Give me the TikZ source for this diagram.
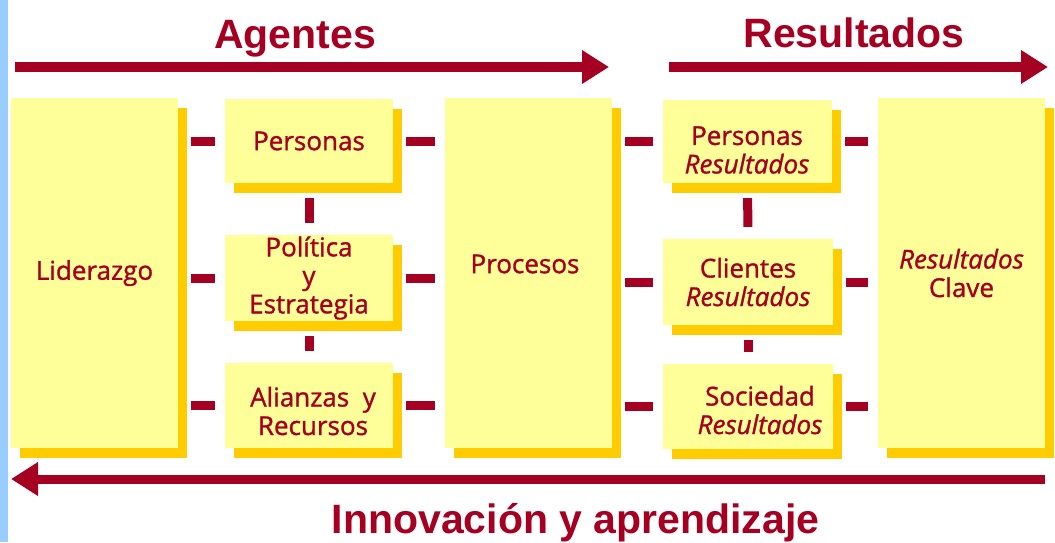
\documentclass[tikz,border=0pt]{standalone}
\usepackage{fontspec}
\setmainfont{Open Sans}[FakeBold=1.2]
\newfontfamily\titlefont{Liberation Sans}
\usetikzlibrary{arrows.meta,shadows}
\definecolor{burgundy}{HTML}{A50021}
\definecolor{paleyellow}{HTML}{FFFF99}
\definecolor{gold}{HTML}{FFCC00}
\definecolor{skyblue}{HTML}{99CCFF}
\tikzset{
  box/.style={fill=paleyellow, minimum width=168pt, inner sep=0pt, align=center, text=burgundy,
    font=\fontsize{26}{28.5}\selectfont,
    copy shadow={shadow xshift=9pt, shadow yshift=-10pt, fill=gold, draw=none}},
  txt/.style={align=center, text=burgundy, inner sep=0pt, font=\fontsize{26}{28.5}\selectfont},
  title/.style={anchor=base, text=burgundy, inner sep=0pt, font=\titlefont\bfseries\fontsize{41}{41}\selectfont},
  bigarrow/.style={burgundy, line width=10pt, -{Triangle[length=27pt, width=32pt]}},
  link/.style={burgundy, line width=9pt, shorten <=13pt, shorten >=10pt},
  vlink/.style={burgundy, line width=9pt, shorten <=15pt, shorten >=12pt}
}
\begin{document}
\begin{tikzpicture}[x=1pt, y=-1pt]
\useasboundingbox (0,0) rectangle (1055,542);
\fill[skyblue] (0,0) rectangle (8,542);
\node[title] (agentes) at (295,48) {Agentes};
\node[title] (resultados) at (854,47) {Resultados};
\node[title] (innovacion) at (575.5,533) {Innovación y aprendizaje};
\coordinate (ag1) at (15,67);
\coordinate (ag2) at (609,67);
\coordinate (re1) at (669,67);
\coordinate (re2) at (1048,67);
\coordinate (in1) at (1045,479);
\coordinate (in2) at (11,479);
\draw[bigarrow] (ag1) -- (ag2);
\draw[bigarrow] (re1) -- (re2);
\draw[bigarrow, line width=9pt] (in1) -- (in2);
\node[box, minimum width=167pt, minimum height=350pt] (lid) at (94.5,273) {Liderazgo};
\node[box, minimum height=84pt] (per) at (309,141) {Personas};
\node[box, minimum height=86pt] (pol) at (309,278) {Política\\y\\Estrategia};
\node[box, minimum height=85pt] (ali) at (309,405.5) {};
\node[txt] (alit) at (313,411) {Alianzas\ \ y\\Recursos};
\node[box, minimum width=167pt, minimum height=350pt] (proc) at (528.5,273) {};
\node[txt] (proct) at (525,264) {Procesos};
\node[box, minimum width=169pt, minimum height=83pt] (rper) at (747.5,141.5) {};
\node[txt] (rpert) at (747,150) {Personas\\\textit{Resultados}};
\node[box, minimum width=170pt, minimum height=86pt] (rcli) at (748,282) {Clientes\\\textit{Resultados}};
\node[box, minimum width=170pt, minimum height=85pt] (rsoc) at (748,406.5) {};
\node[txt] (rsoct) at (760,410) {Sociedad\\\textit{Resultados}};
\node[box, minimum width=167pt, minimum height=350pt] (clave) at (961.5,273) {\textit{Resultados}\\Clave};
\draw[link] (lid.east |- per.west) -- (per.west);
\draw[link] (lid.east |- pol.west) -- (pol.west);
\draw[link] (lid.east |- ali.west) -- (ali.west);
\draw[link] (per.east) -- (per.east -| proc.west);
\draw[link] (pol.east) -- (pol.east -| proc.west);
\draw[link] (ali.east) -- (ali.east -| proc.west);
\draw[link] (proc.east |- rper.west) -- (rper.west);
\draw[link] (proc.east |- rcli.west) -- (rcli.west);
\draw[link] (proc.east |- rsoc.west) -- (rsoc.west);
\draw[link] (rper.east) -- (rper.east -| clave.west);
\draw[link] (rcli.east) -- (rcli.east -| clave.west);
\draw[link] (rsoc.east) -- (rsoc.east -| clave.west);
\draw[vlink] (per.south) -- (pol.north);
\draw[vlink] (pol.south) -- (ali.north);
\draw[vlink] (rper.south) -- (rcli.north);
\draw[vlink] (rcli.south) -- (rsoc.north);
\end{tikzpicture}
\end{document}
